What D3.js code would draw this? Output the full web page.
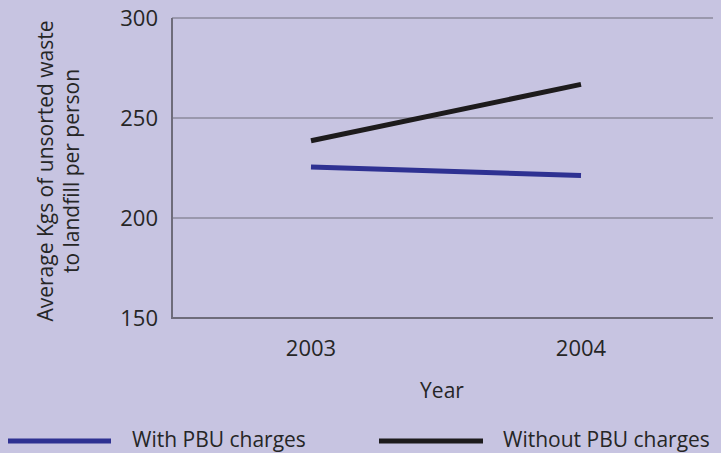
<html>
<script src='https://d3js.org/d3.v7.min.js'></script>
<style>
body { margin: 0; background: #c7c4e1; }
text { font-family: "Open Sans", sans-serif; fill: #262626; }
</style>
<body>
<svg width=721 height=453></svg>
<script>
var years = [2003, 2004];
var withPBU = [225.5, 221.3];
var withoutPBU = [238.6, 266.8];
var seriesNames = ["With PBU charges", "Without PBU charges"];
var yTicks = [150, 200, 250, 300];

var svg = d3.select("svg");
var plotLeft = 172, plotRight = 713, plotTop = 18, plotBottom = 318;

var x = d3.scalePoint().domain(years).range([176, 716]).padding(0.5);
var y = d3.scaleLinear().domain([150, 300]).range([plotBottom, plotTop]);

svg.append("rect").attr("width", 721).attr("height", 453).attr("fill", "#c7c4e1");

// grid
svg.append("g").selectAll("line")
  .data(yTicks.filter(function(d) { return d > 150; }))
  .enter().append("line")
    .attr("x1", plotLeft).attr("x2", plotRight)
    .attr("y1", function(d) { return y(d); })
    .attr("y2", function(d) { return y(d); })
    .attr("stroke", "#6e6c7a").attr("stroke-width", 1.2);

// axes lines
svg.append("line").attr("x1", plotLeft).attr("x2", plotLeft).attr("y1", y(300)).attr("y2", y(150))
  .attr("stroke", "#6e6c7a").attr("stroke-width", 2);
svg.append("line").attr("x1", plotLeft - 1).attr("x2", plotRight).attr("y1", y(150)).attr("y2", y(150))
  .attr("stroke", "#6e6c7a").attr("stroke-width", 2.2);

// y tick labels
svg.append("g").selectAll("text")
  .data(yTicks).enter().append("text")
    .attr("x", 158).attr("y", function(d) { return y(d) + 8; })
    .attr("text-anchor", "end").attr("font-size", 22)
    .text(function(d) { return d; });

// x tick labels
svg.append("g").selectAll("text")
  .data(years).enter().append("text")
    .attr("x", function(d) { return x(d); }).attr("y", 356)
    .attr("text-anchor", "middle").attr("font-size", 22)
    .text(function(d) { return d; });

svg.append("text").attr("x", 442).attr("y", 398).attr("text-anchor", "middle")
  .attr("font-size", 21).text("Year");

var ylab = svg.append("text").attr("transform", "translate(53,171) rotate(-90)")
  .attr("text-anchor", "middle").attr("font-size", 21);
ylab.append("tspan").attr("x", 0).attr("dy", 0).text("Average Kgs of unsorted waste");
ylab.append("tspan").attr("x", 0).attr("dy", 26).text("to landfill per person");

// series
var line = d3.line()
  .x(function(d, i) { return x(years[i]); })
  .y(function(d) { return y(d); });

svg.append("path").datum(withPBU).attr("d", line)
  .attr("fill", "none").attr("stroke", "#2e3192").attr("stroke-width", 5);
svg.append("path").datum(withoutPBU).attr("d", line)
  .attr("fill", "none").attr("stroke", "#1d1b1c").attr("stroke-width", 5);

// legend
var legend = [
  {name: seriesNames[0], color: "#2e3192", x0: 8, x1: 111, tx: 132},
  {name: seriesNames[1], color: "#1d1b1c", x0: 379, x1: 483, tx: 503}
];
legend.forEach(function(l) {
  svg.append("line").attr("x1", l.x0).attr("x2", l.x1).attr("y1", 441).attr("y2", 441)
    .attr("stroke", l.color).attr("stroke-width", 5);
  svg.append("text").attr("x", l.tx).attr("y", 447).attr("font-size", 21).text(l.name);
});
</script>
</body>
</html>
